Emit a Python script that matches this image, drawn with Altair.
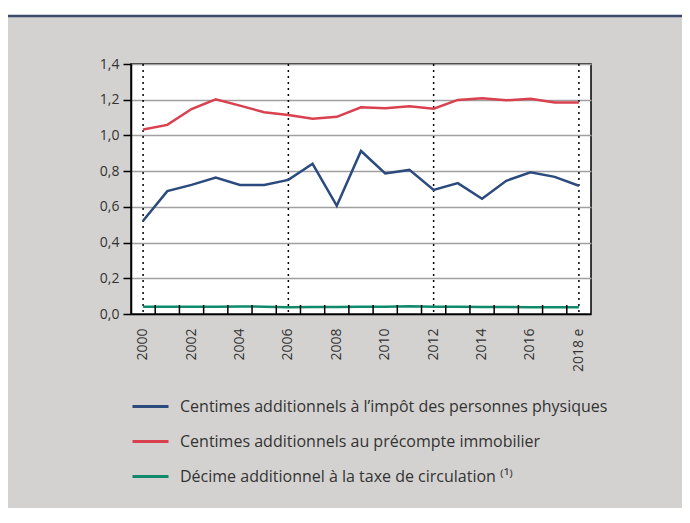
import altair as alt
import pandas as pd

years = list(range(2000, 2019))
ipp = [0.522, 0.688, 0.723, 0.764, 0.723, 0.723, 0.751, 0.841, 0.606, 0.913,
       0.787, 0.807, 0.695, 0.733, 0.645, 0.746, 0.794, 0.768, 0.718]
pri = [1.033, 1.059, 1.148, 1.202, 1.167, 1.130, 1.115, 1.094, 1.104, 1.158,
       1.152, 1.163, 1.150, 1.199, 1.208, 1.197, 1.206, 1.184, 1.184]
tc = [0.041, 0.041, 0.041, 0.041, 0.042, 0.041, 0.038, 0.039, 0.039, 0.040,
      0.041, 0.043, 0.041, 0.040, 0.039, 0.039, 0.038, 0.038, 0.038]
series = [
    "Centimes additionnels à l\u2019impôt des personnes physiques",
    "Centimes additionnels au précompte immobilier",
    "Décime additionnel à la taxe de circulation \u207d\u00b9\u207e",
]
colors = ["#2b4a7e", "#d9414f", "#0f8a6a"]
marker_years = [2000, 2006, 2012, 2018]

rows = []
for name, vals in zip(series, [ipp, pri, tc]):
    for y, v in zip(years, vals):
        rows.append({"year": y, "value": v, "series": name})
df = pd.DataFrame(rows)

FONT = "Open Sans"
xscale = alt.Scale(type="band", paddingInner=0, paddingOuter=0, domain=years)

x_enc = alt.X(
    "year:O", scale=xscale, title=None,
    axis=alt.Axis(
        labelAngle=-90, ticks=False, labelPadding=14, labelFontSize=14,
        labelFont=FONT, labelColor="#333333", domainColor="black", domainWidth=1.5,
        labelExpr="datum.value == 2018 ? '2018 e' : (datum.value % 2 == 0 ? datum.label : '')",
        labelBaseline="middle", labelAlign="right",
    ),
)

lines = alt.Chart(df).mark_line(strokeWidth=2.5, strokeJoin="miter").encode(
    x=x_enc,
    y=alt.Y(
        "value:Q", title=None,
        scale=alt.Scale(domain=[0, 1.4], nice=False),
        axis=alt.Axis(
            values=[0, 0.2, 0.4, 0.6, 0.8, 1.0, 1.2, 1.4],
            labelExpr="replace(format(datum.value, '.1f'), '.', ',')",
            labelFontSize=14, labelFont=FONT, labelColor="#333333",
            tickSize=8, tickColor="black", tickWidth=1.5, labelPadding=4,
            domainColor="black", domainWidth=1.5,
            gridColor="#a0a0a0", gridWidth=1.5,
        ),
    ),
    color=alt.Color(
        "series:N", scale=alt.Scale(domain=series, range=colors),
        sort=series,
        legend=alt.Legend(
            title=None, orient="none", legendX=0, legendY=323,
            symbolType="stroke", symbolSize=1296, symbolStrokeWidth=3,
            labelFontSize=16, labelFont=FONT, labelColor="#333333",
            labelLimit=0, rowPadding=7, labelOffset=10, direction="vertical",
        ),
    ),
)

markers = alt.Chart(pd.DataFrame({"year": marker_years})).mark_rule(
    color="black", strokeWidth=1.5, strokeDash=[2, 4]
).encode(x=alt.X("year:O", scale=xscale))

tick_years = pd.DataFrame({"year": years[1:]})
ticks = alt.Chart(tick_years).mark_rule(color="black", strokeWidth=1.5).encode(
    x=alt.X("year:O", scale=xscale, bandPosition=0),
    y=alt.value(250), y2=alt.value(241),
)

deco = pd.DataFrame({"k": [0]})
top_white = alt.Chart(deco).mark_rect(color="white").encode(
    x=alt.value(-124), x2=alt.value(552), y=alt.value(-57), y2=alt.value(-49)
)
top_line = alt.Chart(deco).mark_rule(color="#3b4a6b", strokeWidth=2.5).encode(
    x=alt.value(-124), x2=alt.value(552), y=alt.value(-48)
)

chart = alt.layer(top_white, top_line, markers, lines, ticks).properties(
    width=460, height=250,
    background="#d3d2d0",
    padding={"left": 123, "top": 56, "right": 91, "bottom": 194},
    autosize=alt.AutoSizeParams(type="none"),
).configure_view(fill="white", stroke="black", strokeWidth=1.5)

chart.save("out.html", embed_options={"renderer": "svg", "actions": False})
